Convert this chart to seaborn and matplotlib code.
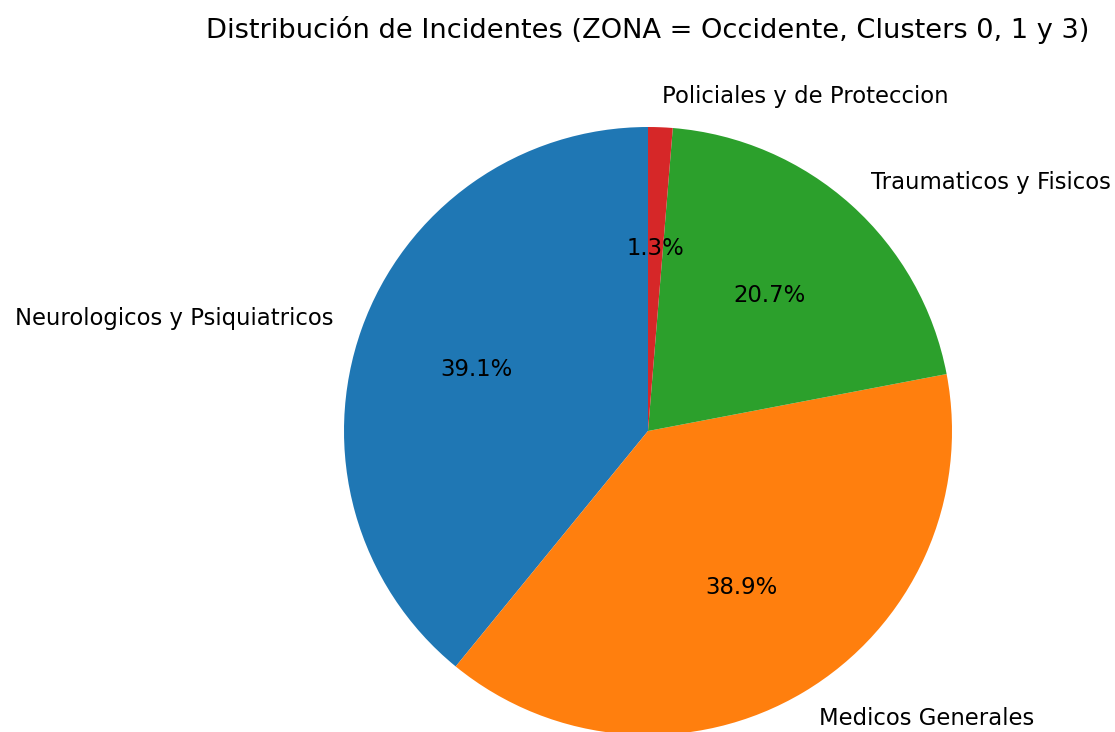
import matplotlib
matplotlib.use("Agg")
import matplotlib.pyplot as plt
import seaborn as sns

categorias = ["Neurologicos y Psiquiatricos", "Medicos Generales",
              "Traumaticos y Fisicos", "Policiales y de Proteccion"]
porcentajes = [39.1, 38.9, 20.7, 1.3]
titulo = "Distribución de Incidentes (ZONA = Occidente, Clusters 0, 1 y 3)"

sns.set_theme(style="white")
plt.rcParams['font.family'] = ['DejaVu Sans']
plt.rcParams['text.color'] = 'black'
colores = sns.color_palette("tab10", 4)

W, H = 1115, 732
fig = plt.figure(figsize=(W / 150, H / 150), dpi=150)
ax = fig.add_axes([0, 0, 1, 1])
ax.pie(porcentajes, labels=categorias, colors=colores, autopct='%1.1f%%',
       startangle=90, wedgeprops={'linewidth': 0, 'edgecolor': 'none'},
       textprops={'fontsize': 10.9, 'color': 'black'})

cx, cy, r = 648, 431, 304
ax.set_xlim(-cx / r, (W - cx) / r)
ax.set_ylim((cy - H) / r, cy / r)
ax.set_aspect('auto')
ax.axis('off')
fig.text(648 / W, 1 - 30 / H, titulo, ha='center', va='center',
         fontsize=13.1, color='black')
fig.savefig("out.png", dpi=150)
